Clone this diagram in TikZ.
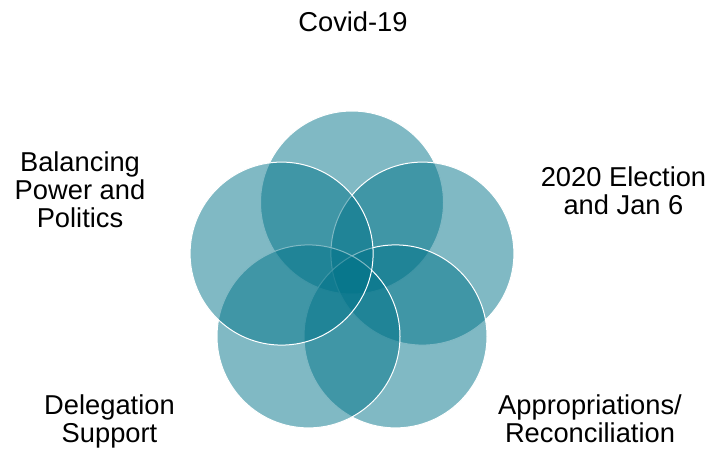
\documentclass[tikz,border=0pt]{standalone}
\usepackage{fontspec}
\setmainfont{Liberation Sans}
\definecolor{teal5}{HTML}{017389}
\begin{document}
\begin{tikzpicture}[x=1pt,y=-1pt,
  petal/.style={circle, inner sep=0pt, minimum size=183pt, fill=teal5, fill opacity=0.5, draw=white, draw opacity=1, line width=1pt},
  lbl/.style={align=center, inner sep=0pt, anchor=base, font=\fontsize{27.3}{28}\selectfont}]
\useasboundingbox (0,0) rectangle (711,449);
\node[petal] (c1) at (352,202.5) {};
\node[petal] (c2) at (422.4,253.6) {};
\node[petal] (c3) at (395.5,336.4) {};
\node[petal] (c4) at (308.5,336.4) {};
\node[petal] (c5) at (281.6,253.6) {};
\node[lbl] (t1) at (353,32) {Covid-19};
\node[lbl] (t2) at (623.5,214) {2020 Election\\and Jan 6};
\node[lbl] (t3) at (590,442) {Appropriations/\\Reconciliation};
\node[lbl] (t4) at (109.5,442) {Delegation\\Support};
\node[lbl] (t5) at (80,227) {Balancing\\Power and\\Politics};
\end{tikzpicture}
\end{document}
